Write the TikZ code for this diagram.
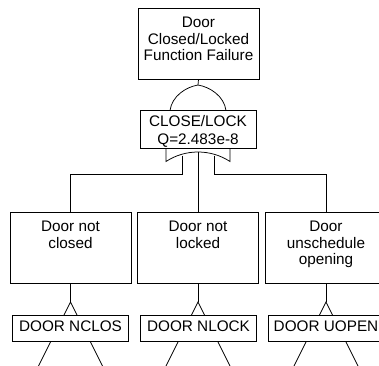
\documentclass[tikz,border=0pt]{standalone}
\usepackage{fontspec}
\setmainfont{Liberation Sans}
\begin{document}
\begin{tikzpicture}[x=1pt,y=-1pt, line width=0.75pt,
  box/.style={draw, rectangle, inner sep=0pt, fill=white},
  txt/.style={inner sep=0pt, align=center, anchor=north, font=\fontsize{15.3}{16.5}\selectfont},
  txtq/.style={inner sep=0pt, align=center, anchor=north, font=\fontsize{15.3}{17.2}\selectfont},
  evbox/.style={box, minimum width=121pt, minimum height=70.5pt},
  lblbox/.style={box, minimum width=116pt, minimum height=26pt}]
\useasboundingbox (0,0) rectangle (379,365);
\clip (0,0) rectangle (379,365);

% top event
\node[box, minimum width=121pt, minimum height=71pt] (top) at (198.5,43.5) {};
\node[txt] (toptxt) at (198.5,16.7) {Door\\Closed/Locked\\Function Failure};

% gate box
\node[box, minimum width=116pt, minimum height=37.5pt] (gate) at (198,129.3) {};
\node[txtq] (gatetxt) at (198,115.5) {CLOSE/LOCK\\Q=2.483e-8};

% upper gate symbol
\coordinate (g1) at (198,85);
\draw (top.south) -- (g1);
\draw (170,110.5) .. controls (172,96) and (186,87) .. (g1)
      .. controls (210,87) and (224,96) .. (226,110.5);

% lower gate symbol
\coordinate (g2) at (198,152);
\coordinate (gl) at (182,155.6);
\coordinate (gr) at (214,155.6);
\draw (166,148) -- (166,161.5) .. controls (176,155) and (187,152) .. (g2)
      .. controls (209,152) and (220,155) .. (230,161.5) -- (230,148);

% intermediate events
\node[evbox] (nl) at (70.5,247.8) {};
\node[evbox] (nm) at (198,247.8) {};
\node[evbox] (nr) at (326,247.8) {};
\node[txt] (nltxt) at (70.5,221) {Door not\\closed};
\node[txt] (nmtxt) at (198,221) {Door not\\locked};
\node[txt] (nrtxt) at (326,221) {Door\\unschedule\\opening};

\coordinate (hl) at (182,174.3);
\coordinate (hr) at (214,174.3);
\draw (gl) -- (hl) -| (nl.north);
\draw (gr) -- (hr) -| (nr.north);
\draw (g2) -- (nm.north);

% transfer triangles
\coordinate (tl) at (70.5,302);
\coordinate (tm) at (198,302);
\coordinate (tr) at (326,302);
\draw (nl.south) -- (tl);
\draw (nm.south) -- (tm);
\draw (nr.south) -- (tr);
\draw (30.5,382) -- (tl) -- (110.5,382);
\draw (158,382) -- (tm) -- (238,382);
\draw (286,382) -- (tr) -- (366,382);

% basic event labels
\node[lblbox] (ll) at (70.5,328) {};
\node[lblbox] (lm) at (198.5,328) {};
\node[lblbox] (lr) at (326,328) {};
\node[txt] (lltxt) at (70.5,320) {DOOR NCLOS};
\node[txt] (lmtxt) at (198.5,320) {DOOR NLOCK};
\node[txt] (lrtxt) at (326,320) {DOOR UOPEN};
\end{tikzpicture}
\end{document}
